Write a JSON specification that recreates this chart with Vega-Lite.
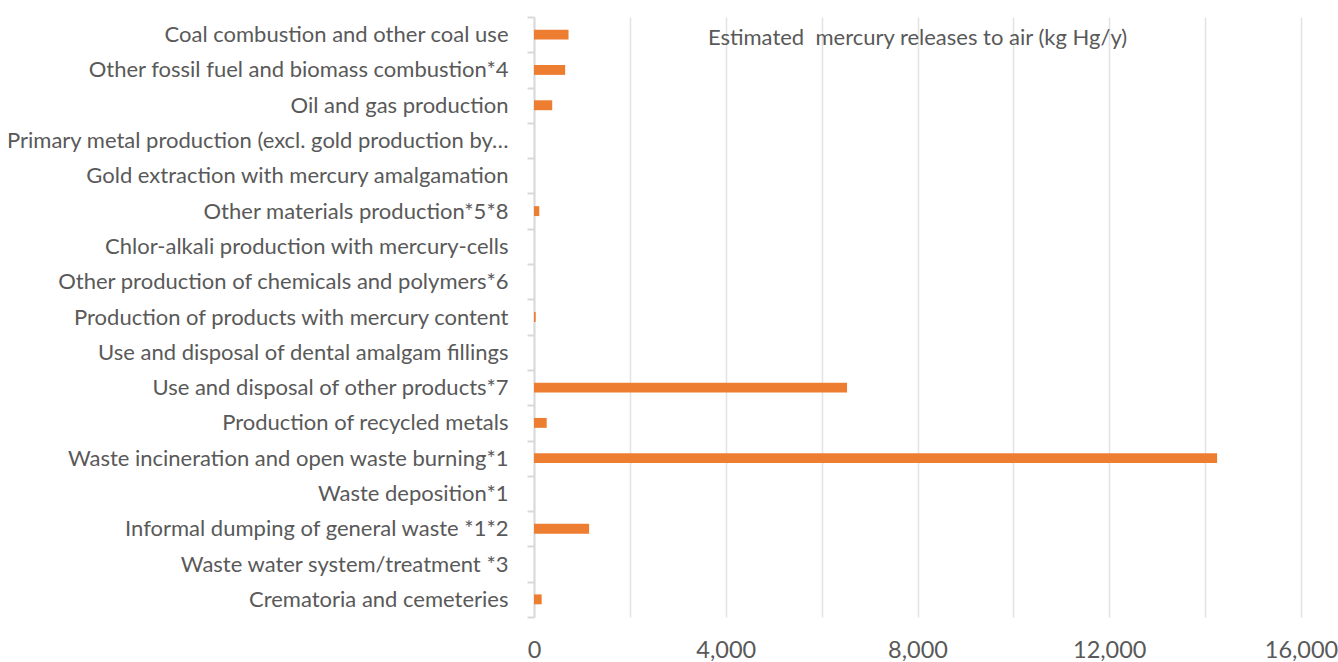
{
  "$schema": "https://vega.github.io/schema/vega-lite/v6.json",
  "width": 767,
  "height": 600,
  "autosize": {"type": "none"},
  "padding": {"left": 534, "top": 17, "right": 37, "bottom": 45},
  "background": "white",
  "title": {
    "text": "Estimated\u00a0 mercury releases to air (kg Hg/y)",
    "font": "Lato",
    "fontSize": 22,
    "fontWeight": "normal",
    "color": "#595959",
    "anchor": "middle",
    "frame": "group",
    "baseline": "bottom",
    "offset": -31,
    "dy": 35
  },
  "data": {
    "values": [
      {"source": "Coal combustion and other coal use", "release": 720},
      {"source": "Other fossil fuel and biomass combustion*4", "release": 650},
      {"source": "Oil and gas production", "release": 380},
      {"source": "Primary metal production (excl. gold production by amalgamation)", "release": 0},
      {"source": "Gold extraction with mercury amalgamation", "release": 0},
      {"source": "Other materials production*5*8", "release": 110},
      {"source": "Chlor-alkali production with mercury-cells", "release": 0},
      {"source": "Other production of chemicals and polymers*6", "release": 0},
      {"source": "Production of products with mercury content", "release": 35},
      {"source": "Use and disposal of dental amalgam fillings", "release": 0},
      {"source": "Use and disposal of other products*7", "release": 6530},
      {"source": "Production of recycled metals", "release": 265},
      {"source": "Waste incineration and open waste burning*1", "release": 14250},
      {"source": "Waste deposition*1", "release": 0},
      {"source": "Informal dumping of general waste *1*2", "release": 1150},
      {"source": "Waste water system/treatment  *3", "release": 0},
      {"source": "Crematoria and cemeteries", "release": 160}
    ]
  },
  "mark": {"type": "bar", "color": "#ED7D31", "height": {"band": 0.28}},
  "encoding": {
    "y": {
      "field": "source",
      "type": "nominal",
      "sort": null,
      "scale": {"paddingInner": 0, "paddingOuter": 0},
      "axis": {
        "title": null,
        "labelFont": "Lato",
        "labelFontSize": 22,
        "labelColor": "#595959",
        "labelPadding": 19,
        "labelLimit": 507,
        "tickSize": 7,
        "tickWidth": 2,
        "tickColor": "#D9D9D9",
        "tickBand": "extent",
        "domainColor": "#D9D9D9",
        "domainWidth": 2,
        "grid": false
      }
    },
    "x": {
      "field": "release",
      "type": "quantitative",
      "scale": {"domain": [0, 16000], "nice": false},
      "axis": {
        "title": null,
        "values": [0, 2000, 4000, 6000, 8000, 10000, 12000, 14000, 16000],
        "labelExpr": "datum.value % 4000 === 0 ? format(datum.value, ',') : ''",
        "labelFont": "Lato",
        "labelFontSize": 23.5,
        "labelColor": "#595959",
        "labelPadding": 21,
        "labelFlush": false,
        "labelOverlap": false,
        "domain": false,
        "ticks": false,
        "grid": true,
        "gridColor": "#E3E3E3",
        "gridWidth": 1.5
      }
    }
  },
  "config": {"view": {"stroke": null}}
}
